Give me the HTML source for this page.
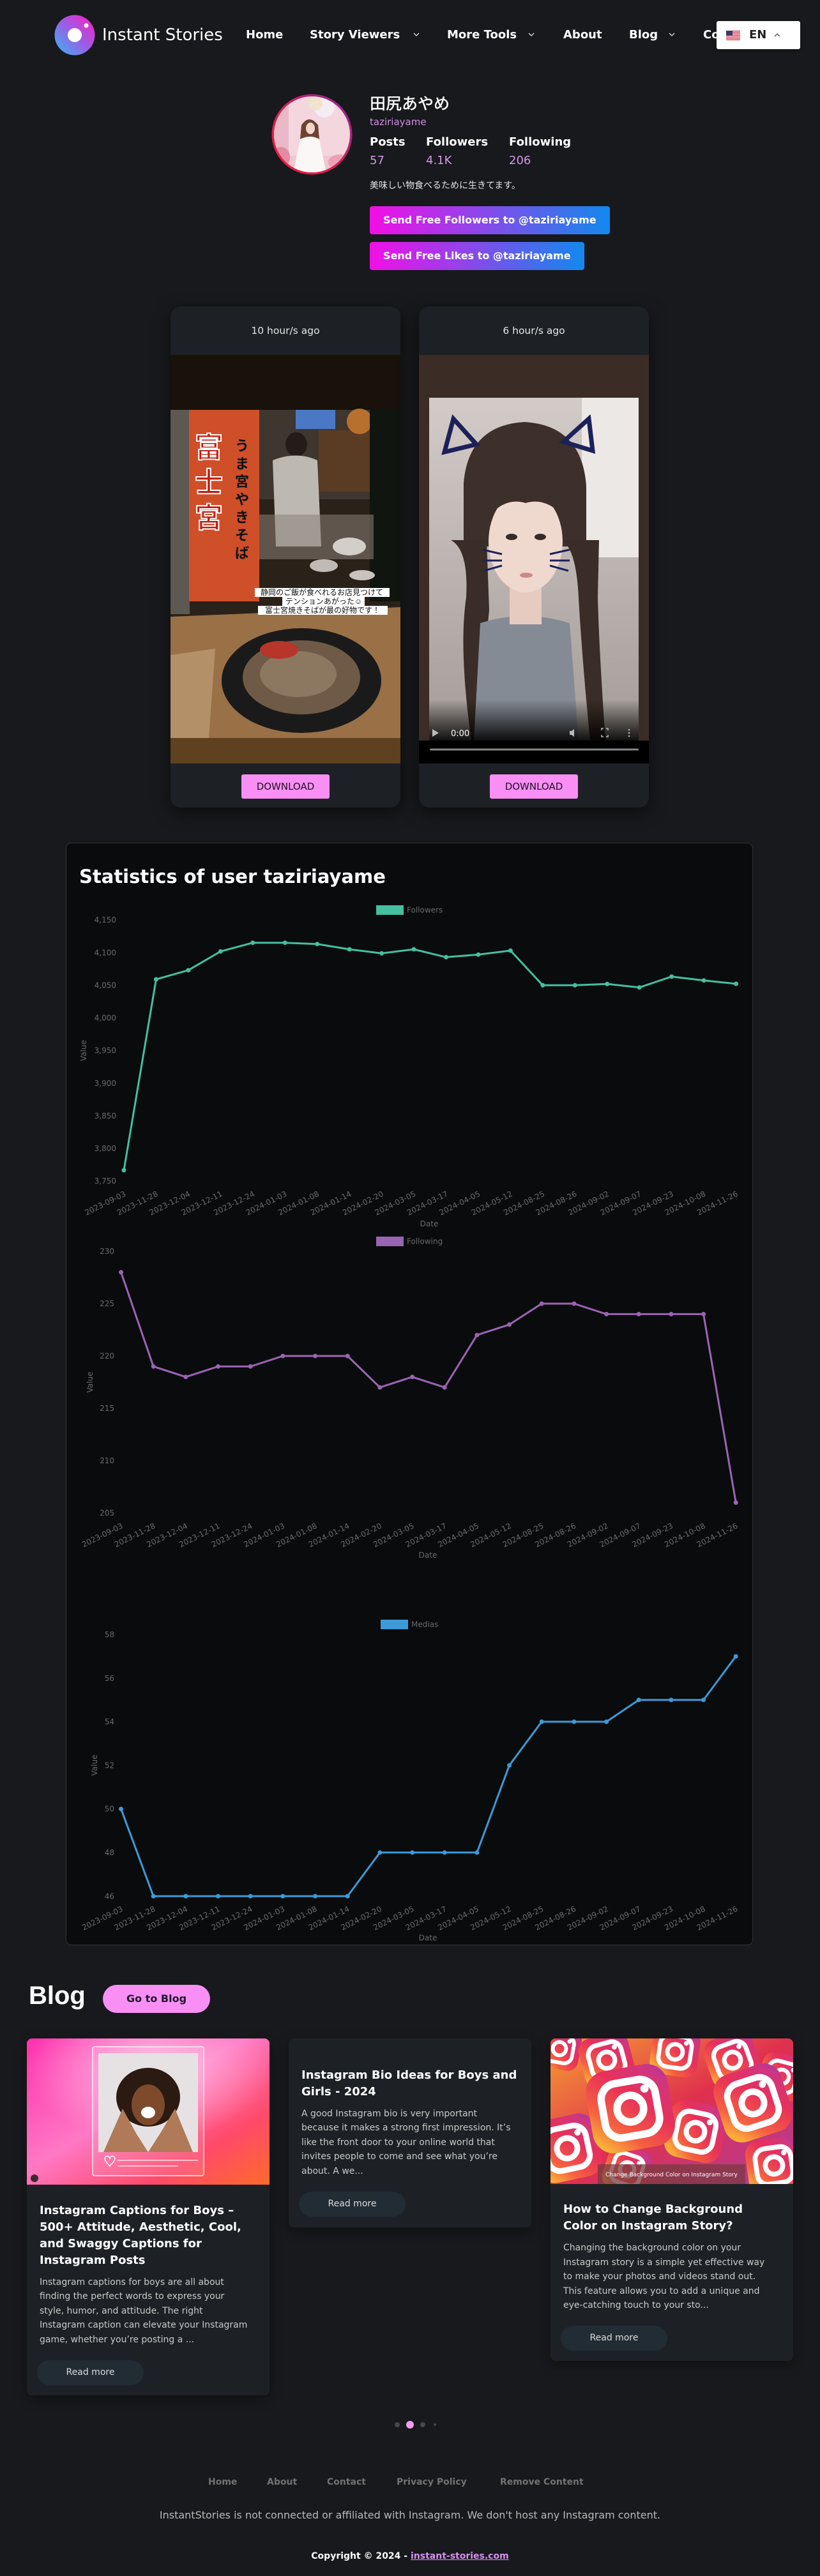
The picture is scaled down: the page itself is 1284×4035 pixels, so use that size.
<!DOCTYPE html>
<html><head><meta charset="utf-8">
<style>
*{box-sizing:border-box;margin:0;padding:0}
html,body{width:1284px;height:4035px}
body{background:#17191c;position:relative;overflow:hidden;font-family:"DejaVu Sans","Noto Sans CJK JP",sans-serif;color:#fff}
.a{position:absolute;white-space:nowrap}
.nav{font-size:18px;font-weight:bold;line-height:22px;top:44px;color:#fff}
.lab{font-size:18px;font-weight:bold;line-height:22px;top:212px;color:#fff}
.val{font-size:18px;line-height:22px;top:241px;color:#d696ea}
.btn{height:44px;line-height:44px;padding:0 21px;font-size:16px;font-weight:bold;color:#fff;border-radius:4px;background:linear-gradient(90deg,#f20fe6,#1289ee)}
.card{position:absolute;top:480px;width:360px;height:785px;border-radius:16px;background:#1d2125;overflow:hidden;box-shadow:0 8px 26px rgba(0,0,0,.5)}
.ch{height:76px;padding-top:28px;line-height:20px;font-size:15.5px;text-align:center;color:#e6e6e6}
.card svg{display:block}
.cf{height:69px;padding-top:17px;text-align:center}
.dl{display:inline-block;width:138px;height:38px;line-height:38px;background:#f98ff5;color:#1b0f1e;font-size:15px;border-radius:3px}
.bc{position:absolute;top:3193px;width:380px;background:#1d2125;border-radius:8px;overflow:hidden;box-shadow:0 6px 18px rgba(0,0,0,.35)}
.bc svg{display:block}
.bt{font-size:18px;font-weight:bold;line-height:26px;color:#fff;white-space:nowrap}
.bd{font-size:14px;line-height:22.5px;color:#c9c9c9;margin-top:10px;white-space:nowrap}
.rm{width:167px;height:39px;border-radius:20px;background:#222c34;color:#dcdcdc;font-size:14px;line-height:39px;text-align:center;margin-left:-4px}
.fl{font-size:14px;font-weight:bold;line-height:20px;top:3878px;color:#727272}
.dot{position:absolute;border-radius:50%}
</style></head><body>

<!-- HEADER -->
<svg class="a" style="left:84px;top:22px" width="66" height="66" viewBox="0 0 66 66">
<defs><linearGradient id="lg" x1="0" y1="1" x2="1" y2="0"><stop offset="0" stop-color="#35b8f3"/><stop offset=".5" stop-color="#9a5ee6"/><stop offset="1" stop-color="#ff1ec2"/></linearGradient></defs>
<circle cx="33" cy="33" r="31.5" fill="url(#lg)"/>
<circle cx="33" cy="33" r="11" fill="#fff"/>
<circle cx="51" cy="18" r="3.5" fill="#fff"/>
</svg>
<div class="a" style="left:160px;top:40px;font-size:26px;line-height:30px;color:#fff">Instant Stories</div>
<div class="a nav" style="left:385px">Home</div>
<div class="a nav" style="left:485px">Story Viewers</div>
<svg class="a" style="left:647px;top:51px" width="10" height="7"><polyline points="1,1 5,5 9,1" fill="none" stroke="#ddd" stroke-width="1.3"/></svg>
<div class="a nav" style="left:700px">More Tools</div>
<svg class="a" style="left:827px;top:51px" width="10" height="7"><polyline points="1,1 5,5 9,1" fill="none" stroke="#ddd" stroke-width="1.3"/></svg>
<div class="a nav" style="left:882px">About</div>
<div class="a nav" style="left:985px">Blog</div>
<svg class="a" style="left:1047px;top:51px" width="10" height="7"><polyline points="1,1 5,5 9,1" fill="none" stroke="#ddd" stroke-width="1.3"/></svg>
<div class="a nav" style="left:1101px">Contact</div>
<div class="a" style="left:1122px;top:33px;width:131px;height:44px;background:#fff;border-radius:3px;box-shadow:0 2px 6px rgba(0,0,0,.3)">
 <svg class="a" style="left:15px;top:15px" width="22" height="15" viewBox="0 0 22 15">
  <rect width="22" height="15" fill="#fff"/>
  <g fill="#c8283c"><rect y="0" width="22" height="1.2"/><rect y="2.3" width="22" height="1.2"/><rect y="4.6" width="22" height="1.2"/><rect y="6.9" width="22" height="1.2"/><rect y="9.2" width="22" height="1.2"/><rect y="11.5" width="22" height="1.2"/><rect y="13.8" width="22" height="1.2"/></g>
  <rect width="10" height="8" fill="#3c3b6e"/>
 </svg>
 <div class="a" style="left:51px;top:11px;font-size:18px;font-weight:bold;line-height:22px;color:#222">EN</div>
 <svg class="a" style="left:90px;top:18px" width="10" height="7"><polyline points="1,6 5,2 9,6" fill="none" stroke="#555" stroke-width="1.3"/></svg>
</div>

<!-- PROFILE -->
<svg class="a" style="left:424px;top:146px" width="129" height="129" viewBox="0 0 129 129">
<defs>
<linearGradient id="avb" x1="0" y1="1" x2="1" y2="0"><stop offset="0" stop-color="#e8203a"/><stop offset=".55" stop-color="#cf1f5c"/><stop offset="1" stop-color="#7e2a9e"/></linearGradient>
<clipPath id="avc"><circle cx="64.5" cy="64.5" r="59.5"/></clipPath>
</defs>
<circle cx="64.5" cy="64.5" r="63" fill="url(#avb)"/>
<g clip-path="url(#avc)">
<rect width="129" height="129" fill="#f3d6de"/>
<rect x="0" y="0" width="28" height="129" fill="#eab9c7"/>
<circle cx="84" cy="22" r="16" fill="#f6ecf3"/>
<circle cx="70" cy="16" r="11" fill="#efe4cd"/>
<rect x="20" y="98" width="110" height="40" fill="#f1c6d1"/>
<ellipse cx="16" cy="100" rx="14" ry="16" fill="#e48aa2"/>
<ellipse cx="108" cy="108" rx="18" ry="12" fill="#ee9fb4"/>
<path d="M48 50 q12-18 26 0 l3 32 h-32z" fill="#6e4232"/>
<ellipse cx="62" cy="55" rx="7" ry="9" fill="#f2d6ca"/>
<path d="M46 72 q16-8 30 0 l12 58 h-54z" fill="#fbf7f6"/>
</g>
</svg>
<div class="a" style="left:579px;top:148px;font-size:25px;line-height:30px;font-weight:500;font-family:'DejaVu Sans','Noto Sans CJK JP',sans-serif">田尻あやめ</div>
<div class="a" style="left:579px;top:182px;font-size:15px;line-height:18px;color:#d48fe4">taziriayame</div>
<div class="a lab" style="left:579px">Posts</div>
<div class="a lab" style="left:667px">Followers</div>
<div class="a lab" style="left:797px">Following</div>
<div class="a val" style="left:579px">57</div>
<div class="a val" style="left:667px">4.1K</div>
<div class="a val" style="left:797px">206</div>
<div class="a" style="left:579px;top:281px;font-size:14px;line-height:20px;color:#e4e4e4">美味しい物食べるために生きてます。</div>
<div class="a btn" style="left:579px;top:323px">Send Free Followers to @taziriayame</div>
<div class="a btn" style="left:579px;top:379px">Send Free Likes to @taziriayame</div>

<!-- STORY CARD 1 -->
<div class="card" style="left:267px">
 <div class="ch">10 hour/s ago</div>
 <svg width="360" height="640" viewBox="0 0 360 640">
  <rect width="360" height="640" fill="#18120b"/>
  <rect y="86" width="360" height="514" fill="#2a2119"/>
  <rect x="138" y="86" width="222" height="140" fill="#3e362f"/>
  <rect x="196" y="86" width="62" height="30" fill="#4a78c4"/>
  <rect x="232" y="118" width="100" height="96" fill="#5a3c24"/>
  <circle cx="296" cy="104" r="20" fill="#b8702f"/>
  <rect x="312" y="86" width="48" height="300" fill="#10150f"/>
  <rect x="0" y="86" width="30" height="320" fill="#5e5852"/>
  <ellipse cx="197" cy="140" rx="17" ry="19" fill="#231d19"/>
  <path d="M160 165 Q197 150 230 165 L236 300 L165 300 Z" fill="#bdb9b2"/>
  <rect x="138" y="250" width="180" height="70" fill="#8a8278" opacity=".55"/>
  <ellipse cx="280" cy="300" rx="26" ry="14" fill="#d2cec8"/>
  <ellipse cx="240" cy="330" rx="22" ry="10" fill="#bfbab4"/>
  <ellipse cx="300" cy="345" rx="20" ry="8" fill="#c8c3bc"/>
  <rect x="29" y="86" width="110" height="300" fill="#cf4f29"/>
  <g font-family="'Noto Sans CJK JP',sans-serif" font-weight="bold">
   <text x="60" y="160" font-size="44" fill="#c01f14" stroke="#fff" stroke-width="2" text-anchor="middle">富</text>
   <text x="60" y="215" font-size="44" fill="#c01f14" stroke="#fff" stroke-width="2" text-anchor="middle">士</text>
   <text x="60" y="270" font-size="44" fill="#c01f14" stroke="#fff" stroke-width="2" text-anchor="middle">宮</text>
   <text x="112" y="150" font-size="22" fill="#111" text-anchor="middle">う</text>
   <text x="112" y="178" font-size="22" fill="#111" text-anchor="middle">ま</text>
   <text x="112" y="206" font-size="22" fill="#111" text-anchor="middle">宮</text>
   <text x="112" y="234" font-size="22" fill="#111" text-anchor="middle">や</text>
   <text x="112" y="262" font-size="22" fill="#111" text-anchor="middle">き</text>
   <text x="112" y="290" font-size="22" fill="#111" text-anchor="middle">そ</text>
   <text x="112" y="318" font-size="22" fill="#111" text-anchor="middle">ば</text>
  </g>
  <path d="M0 410 L360 395 L360 600 L0 600 Z" fill="#9a7046"/>
  <path d="M0 470 L70 460 L60 600 L0 600 Z" fill="#b39068"/>
  <ellipse cx="205" cy="510" rx="125" ry="82" fill="#1a1a1a"/>
  <ellipse cx="205" cy="505" rx="92" ry="58" fill="#6e5a46"/>
  <ellipse cx="200" cy="500" rx="60" ry="36" fill="#8c7760"/>
  <ellipse cx="170" cy="462" rx="30" ry="14" fill="#b8352a"/>
  <g font-family="'Noto Sans CJK JP',sans-serif" font-size="12" fill="#111" text-anchor="middle">
   <rect x="132" y="365" width="211" height="14" fill="#fff"/>
   <text x="237" y="376">静岡のご飯が食べれるお店見つけて</text>
   <rect x="175" y="379" width="129" height="14" fill="#fff"/>
   <text x="240" y="390">テンションあがった☺</text>
   <rect x="137" y="393" width="203" height="14" fill="#fff"/>
   <text x="238" y="404">富士宮焼きそばが最の好物です！</text>
  </g>
  <rect y="600" width="360" height="40" fill="#5f401f"/>
 </svg>
 <div class="cf"><div class="dl">DOWNLOAD</div></div>
</div>

<!-- STORY CARD 2 -->
<div class="card" style="left:656px">
 <div class="ch">6 hour/s ago</div>
 <svg width="360" height="640" viewBox="0 0 360 640">
  <defs>
   <linearGradient id="g2bg" x1="0" y1="0" x2="0" y2="1"><stop offset="0" stop-color="#d3cbc7"/><stop offset="1" stop-color="#a39c98"/></linearGradient>
   <linearGradient id="g2f" x1="0" y1="0" x2="0" y2="1"><stop offset="0" stop-color="#000" stop-opacity="0"/><stop offset="1" stop-color="#000" stop-opacity=".9"/></linearGradient>
   <clipPath id="c2"><rect x="16" y="67" width="328" height="537"/></clipPath>
  </defs>
  <rect width="360" height="640" fill="#3b2c25"/>
  <g clip-path="url(#c2)">
   <rect x="16" y="67" width="328" height="537" fill="url(#g2bg)"/>
   <rect x="255" y="67" width="89" height="250" fill="#ebe8e6"/>
   <path d="M70 200 Q78 110 165 105 Q255 110 262 205 L262 300 L70 300 Z" fill="#3d2f29"/>
   <path d="M50 290 Q78 305 74 380 Q62 460 82 604 L108 604 Q102 470 110 400 L106 290Z" fill="#3a2c26"/>
   <path d="M222 290 Q246 300 250 380 Q255 470 268 604 L292 604 Q282 460 280 380 L282 290Z" fill="#3a2c26"/>
   <path d="M96 420 Q166 398 236 420 L250 604 L86 604 Z" fill="#858b94"/>
   <rect x="142" y="360" width="50" height="62" fill="#e6cbc0"/>
   <ellipse cx="167" cy="292" rx="58" ry="80" fill="#efd9cf"/>
   <path d="M108 255 Q110 172 167 166 Q226 172 228 255 Q200 222 167 232 Q134 222 108 255Z" fill="#3d2f29"/>
   <ellipse cx="145" cy="285" rx="9" ry="5" fill="#3a2a26"/>
   <ellipse cx="190" cy="285" rx="9" ry="5" fill="#3a2a26"/>
   <ellipse cx="168" cy="345" rx="10" ry="4" fill="#c98a86"/>
   <path d="M40 152 L54 100 L90 140 Z" fill="none" stroke="#1c215a" stroke-width="7"/>
   <path d="M226 136 L266 100 L272 150 Z" fill="none" stroke="#1c215a" stroke-width="7"/>
   <g stroke="#1c215a" stroke-width="3" fill="none">
    <path d="M100 305 L130 312"/><path d="M100 322 L130 322"/><path d="M102 338 L130 330"/>
    <path d="M205 312 L236 305"/><path d="M205 322 L236 322"/><path d="M205 330 L234 338"/>
   </g>
  </g>
  <rect x="16" y="540" width="328" height="64" fill="url(#g2f)"/>
  <rect y="604" width="360" height="36" fill="#000"/>
  <path d="M21 586 L31 592 L21 598 Z" fill="#bbb"/>
  <text x="50" y="597" font-size="13" fill="#fff" font-family="'DejaVu Sans',sans-serif">0:00</text>
  <path d="M236 589 h3 l4 -3 v12 l-4 -3 h-3z" fill="#bbb"/>
  <path d="M286 588 v-3 h3 M293 585 h3 v3 M296 595 v3 h-3 M289 598 h-3 v-3" fill="none" stroke="#bbb" stroke-width="1.5"/>
  <circle cx="329" cy="587" r="1.3" fill="#bbb"/><circle cx="329" cy="592" r="1.3" fill="#bbb"/><circle cx="329" cy="597" r="1.3" fill="#bbb"/>
  <rect x="17" y="616.5" width="327" height="3" rx="1.5" fill="#888"/>
 </svg>
 <div class="cf"><div class="dl">DOWNLOAD</div></div>
</div>

<!-- STATS PANEL -->
<svg class="a" style="left:0;top:1300px" width="1284" height="1760" viewBox="0 1300 1284 1760" font-family="'DejaVu Sans',sans-serif">
<rect x="103.5" y="1320.5" width="1075" height="1726" rx="8" fill="#0a0b0d" stroke="#2e3135"/>
<text x="124" y="1383" font-size="29" font-weight="bold" fill="#fff">Statistics of user taziriayame</text>

<g font-size="12" fill="#6b6b6b">
<!-- chart 1 -->
<rect x="589" y="1418" width="43" height="15" fill="#44bf9f"/>
<text x="637" y="1425.5" dy=".35em">Followers</text>
<g text-anchor="end">
<text x="182" y="1441" dy=".35em">4,150</text><text x="182" y="1492.1" dy=".35em">4,100</text><text x="182" y="1543.25" dy=".35em">4,050</text><text x="182" y="1594.4" dy=".35em">4,000</text><text x="182" y="1645.5" dy=".35em">3,950</text><text x="182" y="1696.6" dy=".35em">3,900</text><text x="182" y="1747.8" dy=".35em">3,850</text><text x="182" y="1798.9" dy=".35em">3,800</text><text x="182" y="1850" dy=".35em">3,750</text>
</g>
<text transform="translate(131,1645.5) rotate(-90)" text-anchor="middle" dy=".35em">Value</text>
<text x="672" y="1917" text-anchor="middle" dy=".35em">Date</text>
<g text-anchor="end">
<text transform="translate(196,1869) rotate(-26.5)" dy=".35em">2023-09-03</text>
<text transform="translate(246.45,1869) rotate(-26.5)" dy=".35em">2023-11-28</text>
<text transform="translate(296.9,1869) rotate(-26.5)" dy=".35em">2023-12-04</text>
<text transform="translate(347.35,1869) rotate(-26.5)" dy=".35em">2023-12-11</text>
<text transform="translate(397.8,1869) rotate(-26.5)" dy=".35em">2023-12-24</text>
<text transform="translate(448.25,1869) rotate(-26.5)" dy=".35em">2024-01-03</text>
<text transform="translate(498.7,1869) rotate(-26.5)" dy=".35em">2024-01-08</text>
<text transform="translate(549.15,1869) rotate(-26.5)" dy=".35em">2024-01-14</text>
<text transform="translate(599.6,1869) rotate(-26.5)" dy=".35em">2024-02-20</text>
<text transform="translate(650.05,1869) rotate(-26.5)" dy=".35em">2024-03-05</text>
<text transform="translate(700.5,1869) rotate(-26.5)" dy=".35em">2024-03-17</text>
<text transform="translate(750.95,1869) rotate(-26.5)" dy=".35em">2024-04-05</text>
<text transform="translate(801.4,1869) rotate(-26.5)" dy=".35em">2024-05-12</text>
<text transform="translate(851.85,1869) rotate(-26.5)" dy=".35em">2024-08-25</text>
<text transform="translate(902.3,1869) rotate(-26.5)" dy=".35em">2024-08-26</text>
<text transform="translate(952.75,1869) rotate(-26.5)" dy=".35em">2024-09-02</text>
<text transform="translate(1003.2,1869) rotate(-26.5)" dy=".35em">2024-09-07</text>
<text transform="translate(1053.65,1869) rotate(-26.5)" dy=".35em">2024-09-23</text>
<text transform="translate(1104.1,1869) rotate(-26.5)" dy=".35em">2024-10-08</text>
<text transform="translate(1154.55,1869) rotate(-26.5)" dy=".35em">2024-11-26</text>
</g>

<!-- chart 2 -->
<rect x="589" y="1937" width="43" height="15" fill="#9a64b4"/>
<text x="637" y="1944.5" dy=".35em">Following</text>
<g text-anchor="end">
<text x="179" y="1960" dy=".35em">230</text><text x="179" y="2042" dy=".35em">225</text><text x="179" y="2124" dy=".35em">220</text><text x="179" y="2206" dy=".35em">215</text><text x="179" y="2288" dy=".35em">210</text><text x="179" y="2370" dy=".35em">205</text>
</g>
<text transform="translate(141,2165) rotate(-90)" text-anchor="middle" dy=".35em">Value</text>
<text x="670" y="2436" text-anchor="middle" dy=".35em">Date</text>
<g text-anchor="end">
<text transform="translate(191.5,2389) rotate(-26.5)" dy=".35em">2023-09-03</text>
<text transform="translate(242.17,2389) rotate(-26.5)" dy=".35em">2023-11-28</text>
<text transform="translate(292.84,2389) rotate(-26.5)" dy=".35em">2023-12-04</text>
<text transform="translate(343.51,2389) rotate(-26.5)" dy=".35em">2023-12-11</text>
<text transform="translate(394.18,2389) rotate(-26.5)" dy=".35em">2023-12-24</text>
<text transform="translate(444.85,2389) rotate(-26.5)" dy=".35em">2024-01-03</text>
<text transform="translate(495.52,2389) rotate(-26.5)" dy=".35em">2024-01-08</text>
<text transform="translate(546.19,2389) rotate(-26.5)" dy=".35em">2024-01-14</text>
<text transform="translate(596.86,2389) rotate(-26.5)" dy=".35em">2024-02-20</text>
<text transform="translate(647.53,2389) rotate(-26.5)" dy=".35em">2024-03-05</text>
<text transform="translate(698.2,2389) rotate(-26.5)" dy=".35em">2024-03-17</text>
<text transform="translate(748.87,2389) rotate(-26.5)" dy=".35em">2024-04-05</text>
<text transform="translate(799.54,2389) rotate(-26.5)" dy=".35em">2024-05-12</text>
<text transform="translate(850.21,2389) rotate(-26.5)" dy=".35em">2024-08-25</text>
<text transform="translate(900.88,2389) rotate(-26.5)" dy=".35em">2024-08-26</text>
<text transform="translate(951.55,2389) rotate(-26.5)" dy=".35em">2024-09-02</text>
<text transform="translate(1002.22,2389) rotate(-26.5)" dy=".35em">2024-09-07</text>
<text transform="translate(1052.89,2389) rotate(-26.5)" dy=".35em">2024-09-23</text>
<text transform="translate(1103.56,2389) rotate(-26.5)" dy=".35em">2024-10-08</text>
<text transform="translate(1154.23,2389) rotate(-26.5)" dy=".35em">2024-11-26</text>
</g>

<!-- chart 3 -->
<rect x="596" y="2537" width="43" height="15" fill="#3d9ad6"/>
<text x="644" y="2544.5" dy=".35em">Medias</text>
<g text-anchor="end">
<text x="179" y="2560.3" dy=".35em">58</text><text x="179" y="2628.6" dy=".35em">56</text><text x="179" y="2696.9" dy=".35em">54</text><text x="179" y="2765.2" dy=".35em">52</text><text x="179" y="2833.5" dy=".35em">50</text><text x="179" y="2901.8" dy=".35em">48</text><text x="179" y="2970.1" dy=".35em">46</text>
</g>
<text transform="translate(148,2765) rotate(-90)" text-anchor="middle" dy=".35em">Value</text>
<text x="670" y="3035.5" text-anchor="middle" dy=".35em">Date</text>
<g text-anchor="end">
<text transform="translate(191.5,2989) rotate(-26.5)" dy=".35em">2023-09-03</text>
<text transform="translate(242.17,2989) rotate(-26.5)" dy=".35em">2023-11-28</text>
<text transform="translate(292.84,2989) rotate(-26.5)" dy=".35em">2023-12-04</text>
<text transform="translate(343.51,2989) rotate(-26.5)" dy=".35em">2023-12-11</text>
<text transform="translate(394.18,2989) rotate(-26.5)" dy=".35em">2023-12-24</text>
<text transform="translate(444.85,2989) rotate(-26.5)" dy=".35em">2024-01-03</text>
<text transform="translate(495.52,2989) rotate(-26.5)" dy=".35em">2024-01-08</text>
<text transform="translate(546.19,2989) rotate(-26.5)" dy=".35em">2024-01-14</text>
<text transform="translate(596.86,2989) rotate(-26.5)" dy=".35em">2024-02-20</text>
<text transform="translate(647.53,2989) rotate(-26.5)" dy=".35em">2024-03-05</text>
<text transform="translate(698.2,2989) rotate(-26.5)" dy=".35em">2024-03-17</text>
<text transform="translate(748.87,2989) rotate(-26.5)" dy=".35em">2024-04-05</text>
<text transform="translate(799.54,2989) rotate(-26.5)" dy=".35em">2024-05-12</text>
<text transform="translate(850.21,2989) rotate(-26.5)" dy=".35em">2024-08-25</text>
<text transform="translate(900.88,2989) rotate(-26.5)" dy=".35em">2024-08-26</text>
<text transform="translate(951.55,2989) rotate(-26.5)" dy=".35em">2024-09-02</text>
<text transform="translate(1002.22,2989) rotate(-26.5)" dy=".35em">2024-09-07</text>
<text transform="translate(1052.89,2989) rotate(-26.5)" dy=".35em">2024-09-23</text>
<text transform="translate(1103.56,2989) rotate(-26.5)" dy=".35em">2024-10-08</text>
<text transform="translate(1154.23,2989) rotate(-26.5)" dy=".35em">2024-11-26</text>
</g>
</g>

<!-- series -->
<polyline fill="none" stroke="#44bf9f" stroke-width="3" stroke-linejoin="round" points="194,1833 244.45,1534 294.9,1519.7 345.35,1490.3 395.8,1476.7 446.25,1476.7 496.7,1478.7 547.15,1487 597.6,1493.3 648.05,1487 698.5,1499.3 748.95,1495.3 799.4,1489 849.85,1543.3 900.3,1543.3 950.75,1541.3 1001.2,1546.7 1051.65,1529.7 1102.1,1535.7 1152.55,1541"/>
<g fill="#44bf9f">
<circle cx="194" cy="1833" r="3.5"/><circle cx="244.45" cy="1534" r="3.5"/><circle cx="294.9" cy="1519.7" r="3.5"/><circle cx="345.35" cy="1490.3" r="3.5"/><circle cx="395.8" cy="1476.7" r="3.5"/><circle cx="446.25" cy="1476.7" r="3.5"/><circle cx="496.7" cy="1478.7" r="3.5"/><circle cx="547.15" cy="1487" r="3.5"/><circle cx="597.6" cy="1493.3" r="3.5"/><circle cx="648.05" cy="1487" r="3.5"/><circle cx="698.5" cy="1499.3" r="3.5"/><circle cx="748.95" cy="1495.3" r="3.5"/><circle cx="799.4" cy="1489" r="3.5"/><circle cx="849.85" cy="1543.3" r="3.5"/><circle cx="900.3" cy="1543.3" r="3.5"/><circle cx="950.75" cy="1541.3" r="3.5"/><circle cx="1001.2" cy="1546.7" r="3.5"/><circle cx="1051.65" cy="1529.7" r="3.5"/><circle cx="1102.1" cy="1535.7" r="3.5"/><circle cx="1152.55" cy="1541" r="3.5"/>
</g>

<polyline fill="none" stroke="#9a64b4" stroke-width="3" stroke-linejoin="round" points="189.5,1992.8 240.17,2140.4 290.84,2156.8 341.51,2140.4 392.18,2140.4 442.85,2124 493.52,2124 544.19,2124 594.86,2173.2 645.53,2156.8 696.2,2173.2 746.87,2091.2 797.54,2074.8 848.21,2042 898.88,2042 949.55,2058.4 1000.22,2058.4 1050.89,2058.4 1101.56,2058.4 1152.23,2353.6"/>
<g fill="#9a64b4">
<circle cx="189.5" cy="1992.8" r="3.5"/><circle cx="240.17" cy="2140.4" r="3.5"/><circle cx="290.84" cy="2156.8" r="3.5"/><circle cx="341.51" cy="2140.4" r="3.5"/><circle cx="392.18" cy="2140.4" r="3.5"/><circle cx="442.85" cy="2124" r="3.5"/><circle cx="493.52" cy="2124" r="3.5"/><circle cx="544.19" cy="2124" r="3.5"/><circle cx="594.86" cy="2173.2" r="3.5"/><circle cx="645.53" cy="2156.8" r="3.5"/><circle cx="696.2" cy="2173.2" r="3.5"/><circle cx="746.87" cy="2091.2" r="3.5"/><circle cx="797.54" cy="2074.8" r="3.5"/><circle cx="848.21" cy="2042" r="3.5"/><circle cx="898.88" cy="2042" r="3.5"/><circle cx="949.55" cy="2058.4" r="3.5"/><circle cx="1000.22" cy="2058.4" r="3.5"/><circle cx="1050.89" cy="2058.4" r="3.5"/><circle cx="1101.56" cy="2058.4" r="3.5"/><circle cx="1152.23" cy="2353.6" r="3.5"/>
</g>

<polyline fill="none" stroke="#3d9ad6" stroke-width="3" stroke-linejoin="round" points="189.5,2833.5 240.17,2970.1 290.84,2970.1 341.51,2970.1 392.18,2970.1 442.85,2970.1 493.52,2970.1 544.19,2970.1 594.86,2901.8 645.53,2901.8 696.2,2901.8 746.87,2901.8 797.54,2765.2 848.21,2696.9 898.88,2696.9 949.55,2696.9 1000.22,2662.75 1050.89,2662.75 1101.56,2662.75 1152.23,2594.45"/>
<g fill="#3d9ad6">
<circle cx="189.5" cy="2833.5" r="3.5"/><circle cx="240.17" cy="2970.1" r="3.5"/><circle cx="290.84" cy="2970.1" r="3.5"/><circle cx="341.51" cy="2970.1" r="3.5"/><circle cx="392.18" cy="2970.1" r="3.5"/><circle cx="442.85" cy="2970.1" r="3.5"/><circle cx="493.52" cy="2970.1" r="3.5"/><circle cx="544.19" cy="2970.1" r="3.5"/><circle cx="594.86" cy="2901.8" r="3.5"/><circle cx="645.53" cy="2901.8" r="3.5"/><circle cx="696.2" cy="2901.8" r="3.5"/><circle cx="746.87" cy="2901.8" r="3.5"/><circle cx="797.54" cy="2765.2" r="3.5"/><circle cx="848.21" cy="2696.9" r="3.5"/><circle cx="898.88" cy="2696.9" r="3.5"/><circle cx="949.55" cy="2696.9" r="3.5"/><circle cx="1000.22" cy="2662.75" r="3.5"/><circle cx="1050.89" cy="2662.75" r="3.5"/><circle cx="1101.56" cy="2662.75" r="3.5"/><circle cx="1152.23" cy="2594.45" r="3.5"/>
</g>
</svg>

<!-- BLOG -->
<div class="a" style="left:45px;top:3103px;font-family:'Liberation Sans',sans-serif;font-size:40px;font-weight:bold;line-height:46px;color:#fff">Blog</div>
<div class="a" style="left:161px;top:3109px;width:168px;height:44px;border-radius:22px;background:#f98ff5;color:#1d1a2a;font-size:16px;font-weight:bold;line-height:44px;text-align:center">Go to Blog</div>

<div class="bc" style="left:42px;height:559px">
 <svg width="380" height="229" viewBox="0 0 380 229">
  <defs>
   <linearGradient id="b1" x1="0" y1="0" x2="1" y2="1"><stop offset="0" stop-color="#ff2fae"/><stop offset=".45" stop-color="#ff78c4"/><stop offset=".75" stop-color="#ff4a6a"/><stop offset="1" stop-color="#ff6a2a"/></linearGradient>
   <radialGradient id="b1g" cx=".5" cy=".2" r=".5"><stop offset="0" stop-color="#ffd0ea" stop-opacity=".8"/><stop offset="1" stop-color="#ffd0ea" stop-opacity="0"/></radialGradient>
  </defs>
  <rect width="380" height="229" fill="url(#b1)"/>
  <rect width="380" height="229" fill="url(#b1g)"/>
  <rect x="103" y="13" width="174" height="202" rx="3" fill="#fff" fill-opacity=".12" stroke="#fff" stroke-opacity=".85" stroke-width="1.5"/>
  <rect x="112" y="23" width="156" height="155" fill="#e6e2e4"/>
  <ellipse cx="190" cy="92" rx="50" ry="46" fill="#2a1a12"/>
  <ellipse cx="190" cy="104" rx="26" ry="32" fill="#7d4a2c"/>
  <ellipse cx="190" cy="116" rx="11" ry="9" fill="#fff"/>
  <path d="M120 178 L150 110 L172 150 L190 178 Z" fill="#b07a58"/>
  <path d="M260 178 L232 110 L208 150 L190 178 Z" fill="#b07a58"/>
  <path d="M124 193 c-6-8 4-12 6-5 c2-7 12-3 6 5 l-6 7z" fill="none" stroke="#fff" stroke-width="1.5"/>
  <rect x="142" y="190" width="126" height="1.5" fill="#fff" opacity=".8"/>
  <rect x="142" y="199" width="95" height="1.5" fill="#fff" opacity=".8"/>
  <circle cx="12" cy="219" r="6" fill="#3a2a30"/>
 </svg>
 <div style="padding:27.5px 20px 0">
  <div class="bt">Instagram Captions for Boys –<br>500+ Attitude, Aesthetic, Cool,<br>and Swaggy Captions for<br>Instagram Posts</div>
  <div class="bd">Instagram captions for boys are all about<br>finding the perfect words to express your<br>style, humor, and attitude. The right<br>Instagram caption can elevate your Instagram<br>game, whether you’re posting a ...</div>
  <div class="rm" style="margin-top:21px">Read more</div>
 </div>
</div>

<div class="bc" style="left:452px;height:295.5px">
 <div style="padding:44.5px 20px 0">
  <div class="bt">Instagram Bio Ideas for Boys and<br>Girls - 2024</div>
  <div class="bd">A good Instagram bio is very important<br>because it makes a strong first impression. It’s<br>like the front door to your online world that<br>invites people to come and see what you’re<br>about. A we...</div>
  <div class="rm" style="margin-top:20.7px">Read more</div>
 </div>
</div>

<div class="bc" style="left:862px;height:504.5px">
 <svg width="380" height="228" viewBox="0 0 380 228">
  <defs>
   <linearGradient id="b3" x1="0" y1="0" x2="1" y2="1"><stop offset="0" stop-color="#f5a030"/><stop offset=".5" stop-color="#e0304e"/><stop offset="1" stop-color="#b03c9c"/></linearGradient>
   <linearGradient id="igg" x1="0" y1="1" x2="1" y2="0"><stop offset="0" stop-color="#fdd835"/><stop offset=".3" stop-color="#f56040"/><stop offset=".6" stop-color="#e8305a"/><stop offset=".85" stop-color="#d03580"/><stop offset="1" stop-color="#9a3ab4"/></linearGradient>
   <g id="ic">
    <rect x="-50" y="-50" width="100" height="100" rx="26" fill="url(#igg)"/>
    <rect x="-33" y="-33" width="66" height="66" rx="19" fill="none" stroke="#fff" stroke-width="9"/>
    <circle r="16" fill="none" stroke="#fff" stroke-width="9"/>
    <circle cx="21" cy="-21" r="5" fill="#fff"/>
   </g>
  </defs>
  <rect width="380" height="228" fill="url(#b3)"/>
  <use href="#ic" transform="translate(14,16) rotate(10) scale(.65)"/>
  <use href="#ic" transform="translate(88,34) rotate(-15) scale(.8)"/>
  <use href="#ic" transform="translate(195,21) rotate(8) scale(.75)"/>
  <use href="#ic" transform="translate(285,34) rotate(-20) scale(.8)"/>
  <use href="#ic" transform="translate(362,60) rotate(15) scale(.7)"/>
  <use href="#ic" transform="translate(26,172) rotate(-12) scale(1.0)"/>
  <use href="#ic" transform="translate(120,205) rotate(18) scale(.7)"/>
  <use href="#ic" transform="translate(227,146) rotate(12) scale(.9)"/>
  <use href="#ic" transform="translate(350,199) rotate(-8) scale(.85)"/>
  <use href="#ic" transform="translate(317,101) rotate(-18) scale(1.1)"/>
  <use href="#ic" transform="translate(125,110) rotate(-10) scale(1.3)"/>
  <rect x="74" y="197" width="231" height="31" fill="#7a3a40" fill-opacity=".75"/>
  <text x="189.5" y="216" font-size="9" fill="#fff" text-anchor="middle" font-family="'DejaVu Sans',sans-serif">Change Background Color on Instagram Story</text>
 </svg>
 <div style="padding:27px 20px 0">
  <div class="bt">How to Change Background<br>Color on Instagram Story?</div>
  <div class="bd">Changing the background color on your<br>Instagram story is a simple yet effective way<br>to make your photos and videos stand out.<br>This feature allows you to add a unique and<br>eye-catching touch to your sto...</div>
  <div class="rm" style="margin-top:20px">Read more</div>
 </div>
</div>

<!-- PAGINATION -->
<div class="dot" style="left:618px;top:3794px;width:8px;height:8px;background:#43464b"></div>
<div class="dot" style="left:636px;top:3792px;width:12px;height:12px;background:#f49cf0"></div>
<div class="dot" style="left:657.5px;top:3794px;width:8px;height:8px;background:#43464b"></div>
<div class="dot" style="left:679px;top:3796px;width:4px;height:4px;background:#43464b"></div>

<!-- FOOTER -->
<div class="a fl" style="left:326px">Home</div>
<div class="a fl" style="left:418px">About</div>
<div class="a fl" style="left:512px">Contact</div>
<div class="a fl" style="left:621px">Privacy Policy</div>
<div class="a fl" style="left:783px">Remove Content</div>
<div class="a" style="left:0;width:1284px;top:3930px;text-align:center;font-size:16px;line-height:20px;color:#b8b8b8">InstantStories is not connected or affiliated with Instagram. We don't host any Instagram content.</div>
<div class="a" style="left:0;width:1284px;top:3994px;text-align:center;font-size:14px;font-weight:bold;line-height:20px;color:#fff">Copyright © 2024 - <span style="color:#d891f0;text-decoration:underline">instant-stories.com</span></div>

</body></html>
